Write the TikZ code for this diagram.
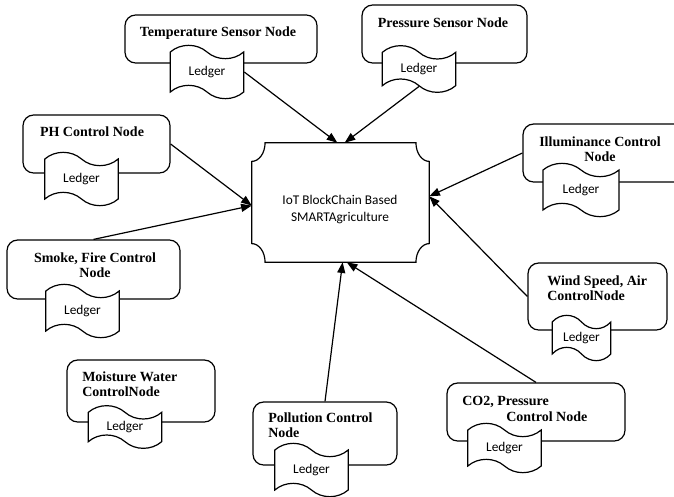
\documentclass[tikz,border=0pt]{standalone}
\usepackage{fontspec}
\setmainfont{Liberation Serif}
\setsansfont{Carlito}
\usetikzlibrary{
arrows.meta,
positioning,
fit,
shapes.symbols
}

\begin{document}
\begin{tikzpicture}[
    x=0.75pt,
    y=-0.75pt,
    nodebox/.style={draw, line width=0.9pt, rounded corners=8pt, inner sep=0pt},
    nodename/.style={font=\bfseries\fontsize{10.5}{11.5}\selectfont, inner sep=0pt},
    ledger/.style={tape, draw, fill=white, line width=0.9pt,
        tape bend top=out and in, tape bend bottom=out and in,
        minimum width=55pt, minimum height=40pt, tape bend height=10pt,
        inner sep=0pt, font=\sffamily\fontsize{10}{12}\selectfont},
    link/.style={-{Triangle[length=8pt,width=6pt]}, line width=0.9pt}
]

\useasboundingbox (0,0) rectangle (674,496);

% =========================
% CENTRAL HUB
% =========================
\node[
    inner sep=0pt,
    fit={(252,143) (429,262)}
] (hub) {};

\draw[
    line width=0.9pt
]
([xshift=10pt]hub.north west) -- ([xshift=-10pt]hub.north east)
arc[start angle=180, end angle=270, x radius=10pt, y radius=14pt]
-- ([yshift=14pt]hub.south east)
arc[start angle=90, end angle=180, x radius=10pt, y radius=14pt]
-- ([xshift=10pt]hub.south west)
arc[start angle=0, end angle=90, x radius=10pt, y radius=14pt]
-- ([yshift=-14pt]hub.north west)
arc[start angle=270, end angle=360, x radius=10pt, y radius=14pt]
-- cycle;

\node[
    align=center,
    font=\sffamily\fontsize{10}{13}\selectfont
]
(hubT) at (340,209.5)
{IoT BlockChain Based\\SMARTAgriculture};

% =========================
% SENSOR / CONTROL BOXES
% =========================
\node[nodebox, fit={(125,15) (317,63)}] (tempBox) {};
\node[nodebox, fit={(362,5) (527,63)}] (presBox) {};
\node[nodebox, fit={(23,115) (170,173)}] (phBox) {};
\node[nodebox, fit={(7,240) (180,299)}] (smokeBox) {};
\node[nodebox, fit={(523,124) (700,182)}] (illBox) {};
\node[nodebox, fit={(528,263) (667,330)}] (windBox) {};
\node[nodebox, fit={(67,360) (215,422)}] (moistBox) {};
\node[nodebox, fit={(253,402) (397,465)}] (pollBox) {};
\node[nodebox, fit={(447,383) (625,441)}] (co2Box) {};

% =========================
% LEDGERS
% =========================
\node[ledger] (tempL) at (207,72) {Ledger};
\node[ledger, minimum height=35pt] (presL) at (419,69) {Ledger};
\node[ledger] (phL) at (81.5,179) {Ledger};
\node[ledger] (smokeL) at (82.5,311) {Ledger};
\node[ledger, minimum width=57pt] (illL) at (581,190) {Ledger};
\node[ledger, minimum width=44pt, minimum height=34pt] (windL) at (581.5,338) {Ledger};
\node[ledger, minimum height=32pt] (moistL) at (125,427) {Ledger};
\node[ledger] (pollL) at (311.5,470) {Ledger};
\node[ledger, minimum height=37pt] (co2L) at (504.5,448) {Ledger};

% =========================
% NODE NAMES
% =========================
\node[nodename] (tempT) at (218,33) {Temperature Sensor Node};
\node[nodename] (presT) at (443,23) {Pressure Sensor Node};
\node[nodename] (phT) at (92,132) {PH Control Node};

\node[nodename, align=center]
(smokeT) at (95,265)
{Smoke, Fire Control\\Node};

\node[nodename, align=center]
(illT) at (600,149.5)
{Illuminance Control\\Node};

\node[nodename, align=left, anchor=west]
(windT) at (547,288)
{Wind Speed, Air\\ControlNode};

\node[nodename, align=left, anchor=west]
(moistT) at (82,384)
{Moisture Water\\ControlNode};

\node[nodename, align=left, anchor=west]
(pollT) at (268,425.5)
{Pollution Control\\Node};

\node[nodename, align=left, anchor=west]
(co2T) at (462,409)
{CO2, Pressure\\\hspace*{33pt}Control Node};

% =========================
% LINKS TO HUB
% =========================
\draw[link] (tempL.east) -- (hub.93);
\draw[link] (presL.south) -- (hub.86);
\draw[link] (phBox.east) -- (hub.182);
\draw[link] (smokeBox.north) -- (hub.182);
\draw[link] (illBox.west) -- (hub.4);
\draw[link] (windBox.west) -- (hub.4);
\draw[link] (pollBox.north) -- (hub.272);
\draw[link] (co2Box.north) -- (hub.276);

\end{tikzpicture}
\end{document}
